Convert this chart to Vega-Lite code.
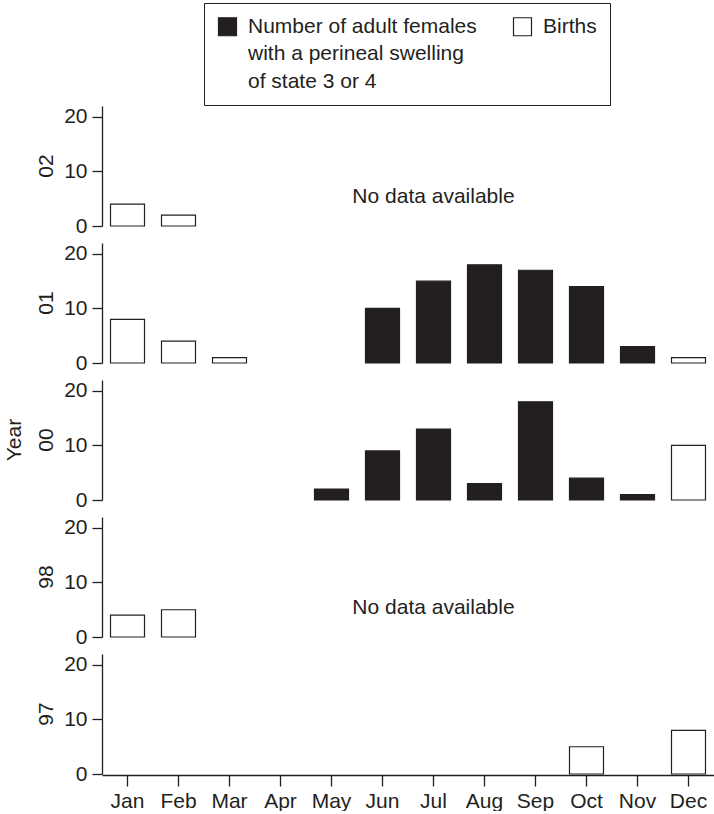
{
  "$schema": "https://vega.github.io/schema/vega-lite/v6.json",
  "padding": {"left": 4, "top": 2, "right": 0, "bottom": 0},
  "autosize": {"type": "pad"},
  "background": "white",
  "config": {
    "font": "Liberation Sans",
    "view": {"stroke": null},
    "axis": {"domainColor": "#231f20", "tickColor": "#231f20", "labelColor": "#231f20", "domainWidth": 1.3, "tickWidth": 1.3, "labelFontSize": 21, "labelFont": "Liberation Sans", "grid": false},
    "header": {"labelFontSize": 21, "titleFontSize": 21, "labelFont": "Liberation Sans", "titleFont": "Liberation Sans", "titleFontWeight": "normal", "labelColor": "#231f20", "titleColor": "#231f20"}
  },
  "data": {"values": [
    {"year": "02", "month": "Jan", "count": 4, "series": "Births", "kind": "bar"},
    {"year": "02", "month": "Feb", "count": 2, "series": "Births", "kind": "bar"},
    {"year": "01", "month": "Jan", "count": 8, "series": "Births", "kind": "bar"},
    {"year": "01", "month": "Feb", "count": 4, "series": "Births", "kind": "bar"},
    {"year": "01", "month": "Mar", "count": 1, "series": "Births", "kind": "bar"},
    {"year": "01", "month": "Jun", "count": 10, "series": "Swelling", "kind": "bar"},
    {"year": "01", "month": "Jul", "count": 15, "series": "Swelling", "kind": "bar"},
    {"year": "01", "month": "Aug", "count": 18, "series": "Swelling", "kind": "bar"},
    {"year": "01", "month": "Sep", "count": 17, "series": "Swelling", "kind": "bar"},
    {"year": "01", "month": "Oct", "count": 14, "series": "Swelling", "kind": "bar"},
    {"year": "01", "month": "Nov", "count": 3, "series": "Swelling", "kind": "bar"},
    {"year": "01", "month": "Dec", "count": 1, "series": "Births", "kind": "bar"},
    {"year": "00", "month": "May", "count": 2, "series": "Swelling", "kind": "bar"},
    {"year": "00", "month": "Jun", "count": 9, "series": "Swelling", "kind": "bar"},
    {"year": "00", "month": "Jul", "count": 13, "series": "Swelling", "kind": "bar"},
    {"year": "00", "month": "Aug", "count": 3, "series": "Swelling", "kind": "bar"},
    {"year": "00", "month": "Sep", "count": 18, "series": "Swelling", "kind": "bar"},
    {"year": "00", "month": "Oct", "count": 4, "series": "Swelling", "kind": "bar"},
    {"year": "00", "month": "Nov", "count": 1, "series": "Swelling", "kind": "bar"},
    {"year": "00", "month": "Dec", "count": 10, "series": "Births", "kind": "bar"},
    {"year": "98", "month": "Jan", "count": 4, "series": "Births", "kind": "bar"},
    {"year": "98", "month": "Feb", "count": 5, "series": "Births", "kind": "bar"},
    {"year": "97", "month": "Oct", "count": 5, "series": "Births", "kind": "bar"},
    {"year": "97", "month": "Dec", "count": 8, "series": "Births", "kind": "bar"},
    {"year": "02", "month": "Jul", "count": 4.3, "note": "No data available", "kind": "note"},
    {"year": "98", "month": "Jul", "count": 4.3, "note": "No data available", "kind": "note"}
  ]},
  "facet": {
    "row": {
      "field": "year", "type": "nominal",
      "sort": ["02", "01", "00", "98", "97"],
      "title": "Year",
      "header": {"labelAngle": -90, "labelPadding": -4, "titlePadding": 0}
    }
  },
  "spacing": 16,
  "spec": {
    "width": 612,
    "height": 120,
    "encoding": {
      "x": {
        "field": "month", "type": "ordinal",
        "sort": ["Jan", "Feb", "Mar", "Apr", "May", "Jun", "Jul", "Aug", "Sep", "Oct", "Nov", "Dec"],
        "scale": {"domain": ["Jan", "Feb", "Mar", "Apr", "May", "Jun", "Jul", "Aug", "Sep", "Oct", "Nov", "Dec"], "paddingInner": 0.3333, "paddingOuter": 0.1667},
        "axis": {"title": null, "labelAngle": 0, "tickSize": 11, "labelPadding": 4}
      },
      "y": {
        "field": "count", "type": "quantitative",
        "scale": {"domain": [0, 22], "nice": false},
        "axis": {"title": null, "values": [0, 10, 20], "tickSize": 10, "labelPadding": 5}
      }
    },
    "layer": [
      {
        "transform": [{"filter": "datum.kind == 'bar'"}],
        "mark": {"type": "bar", "stroke": "#231f20", "strokeWidth": 1.2},
        "encoding": {
          "fill": {
            "field": "series", "type": "nominal",
            "scale": {"domain": ["Swelling", "Births"], "range": ["#231f20", "#ffffff"]},
            "legend": {
              "title": null,
              "orient": "none",
              "legendX": 102,
              "legendY": -103,
              "direction": "horizontal",
              "columns": 2,
              "symbolType": "square",
              "symbolSize": 324,
              "symbolStrokeColor": "#231f20",
              "symbolStrokeWidth": 1.2,
              "labelFontSize": 21,
              "labelFont": "Liberation Sans",
              "labelColor": "#231f20",
              "labelBaseline": "middle",
              "labelOffset": 10,
              "labelLimit": 0,
              "columnPadding": 34,
              "padding": 13,
              "strokeColor": "#231f20",
              "fillColor": "#ffffff",
              "labelExpr": "datum.value == 'Swelling' ? ['Number of adult females', 'with a perineal swelling', 'of state 3 or 4'] : ['Births', '', '']",
              "encode": {"labels": {"update": {"lineHeight": {"value": 27.5}}}}
            }
          }
        }
      },
      {
        "transform": [{"aggregate": [{"op": "count", "as": "n"}], "groupby": ["year"]}],
        "mark": {"type": "rule", "color": "#231f20", "strokeWidth": 1.3},
        "encoding": {"x": null, "y": {"datum": 0}}
      },
      {
        "transform": [{"filter": "datum.kind == 'note'"}],
        "mark": {"type": "text", "fontSize": 21, "baseline": "alphabetic", "align": "center", "color": "#231f20"},
        "encoding": {"text": {"field": "note"}}
      }
    ]
  }
}
